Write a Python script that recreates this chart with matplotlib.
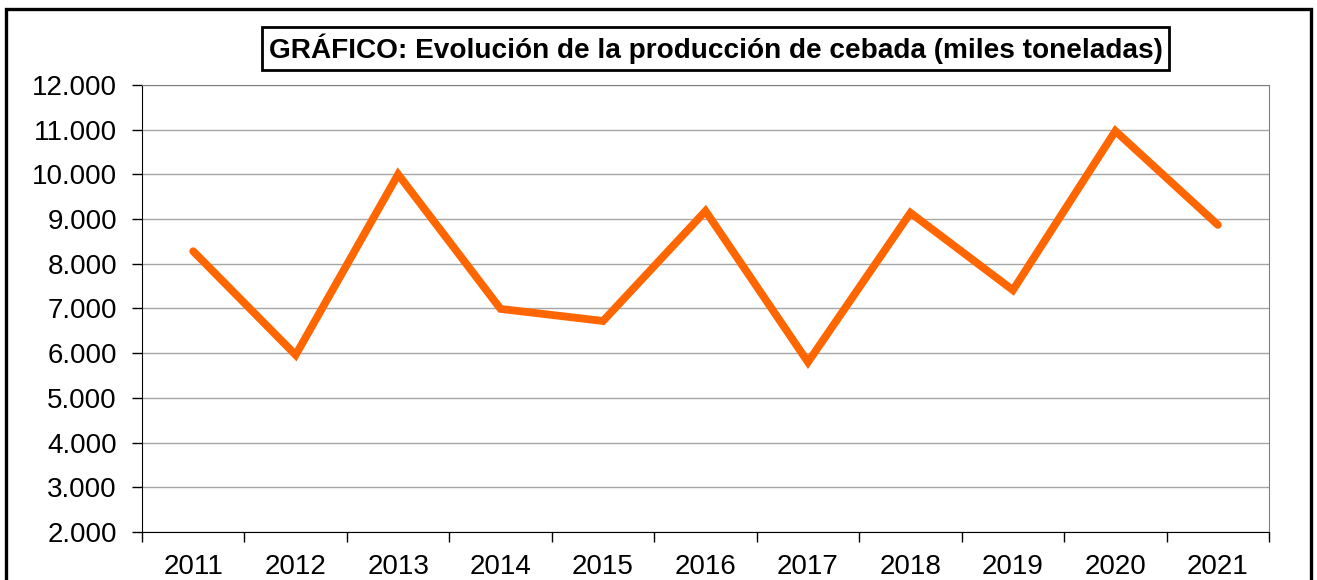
import matplotlib.pyplot as plt
from matplotlib.patches import Rectangle
from matplotlib.ticker import FuncFormatter

years = ['2011', '2012', '2013', '2014', '2015', '2016', '2017', '2018', '2019', '2020', '2021']
production = [8280, 5960, 10000, 6990, 6720, 9180, 5800, 9140, 7410, 10970, 8870]

plt.rcParams['font.family'] = ['Liberation Sans', 'DejaVu Sans']

fig = plt.figure(figsize=(13.17, 5.80), dpi=100)
ax = fig.add_axes([0.1078, 0.0828, 0.8558, 0.7707])

x = list(range(len(years)))
ax.plot(x, production, color='#FF6600', lw=5.6, solid_capstyle='round', solid_joinstyle='miter')

ax.set_xlim(-0.5, len(years) - 0.5)
ax.set_ylim(2000, 12000)
ax.set_yticks(range(2000, 12001, 1000))
ax.yaxis.set_major_formatter(FuncFormatter(lambda v, p: f'{int(v):,}'.replace(',', '.')))
ax.grid(axis='y', color='#A6A6A6', lw=1)
ax.set_axisbelow(True)

# category axis: ticks between categories, labels centered
ax.set_xticks([i - 0.5 for i in range(len(years) + 1)])
ax.set_xticklabels([])
ax.set_xticks(x, minor=True)
ax.set_xticklabels(years, minor=True)
ax.tick_params(axis='x', which='minor', length=0, pad=16, labelsize=20)
ax.tick_params(axis='x', which='major', length=7, width=1, direction='out')
ax.tick_params(axis='y', length=7, width=1, direction='out', labelsize=20, pad=11)

for s in ['top', 'right']:
    ax.spines[s].set_color('#808080')
for s in ['left', 'bottom']:
    ax.spines[s].set_color('black')

fig.text(0.5433, 0.9164, 'GRÁFICO: Evolución de la producción de cebada (miles toneladas)',
         ha='center', va='center', fontsize=20.2, fontweight='bold',
         bbox=dict(boxstyle='square,pad=0.22', fc='white', ec='black', lw=2))

fig.patches.append(Rectangle((6 / 1317, -0.1), (1311 - 6) / 1317, 1 - 9 / 580 + 0.1,
                             transform=fig.transFigure, fill=False, ec='black', lw=2.4))

fig.savefig('out.png', dpi=100)
